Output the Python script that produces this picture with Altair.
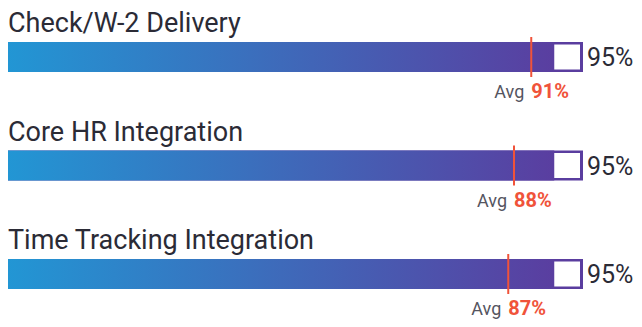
import altair as alt
import pandas as pd

categories = ["Check/W-2 Delivery", "Core HR Integration", "Time Tracking Integration"]
values = [95, 95, 95]
averages = [91, 88, 87]

df = pd.DataFrame({
    "label": categories,
    "row": list(range(len(categories))),
    "value": values,
    "avg": averages,
})
df["start"] = 0
df["full"] = 100
df["value_text"] = df["value"].astype(str) + "%"
df["avg_text"] = df["avg"].astype(str) + "%"
df["avg_word"] = "Avg"

PURPLE = "#5a3d9f"
RED = "#f0533a"
DARK = "#2b2b36"
FONT = "Roboto"

H = 311
first = 49.0
step = 108.5
ydom = [-first / step, (H - first) / step]

xs = alt.Scale(domain=[0, 100], nice=False, zero=False, padding=0)
ys = alt.Scale(domain=ydom, reverse=True, nice=False, zero=False, padding=0)

X = lambda f: alt.X(f, type="quantitative", scale=xs, axis=None)
Y = alt.Y("row:Q", scale=ys, axis=None)

base = alt.Chart(df)

track = base.mark_bar(size=30, color=PURPLE, orient="horizontal").encode(
    x=X("start"), x2="full", y=Y)

grad = alt.Gradient(
    gradient="linear",
    stops=[alt.GradientStop(color="#2296d4", offset=0),
           alt.GradientStop(color="#5a3ea0", offset=1)],
    x1=0, x2=1, y1=0, y2=0)

fill = base.mark_bar(size=30, color=grad, orient="horizontal").encode(
    x=X("start"), x2="value", y=Y)

white = base.mark_bar(size=25, color="white", x2Offset=-3, orient="horizontal").encode(
    x=X("value"), x2="full", y=Y)

rule = base.mark_rule(color=RED, strokeWidth=2, yOffset=-20, y2Offset=20).encode(
    x=X("avg"), y=Y, y2="row:Q")

title = base.mark_text(align="left", baseline="alphabetic", dy=-25, fontSize=27,
                       font=FONT, color=DARK).encode(
    x=X("start"), y=Y, text="label:N")

vtext = base.mark_text(align="left", baseline="alphabetic", dx=4, dy=9, fontSize=25,
                       font=FONT, color=DARK).encode(
    x=X("full"), y=Y, text="value_text:N")

avgword = base.mark_text(align="right", baseline="alphabetic", dx=-7, dy=41, fontSize=18,
                         font=FONT, color="#55555f").encode(
    x=X("avg"), y=Y, text="avg_word:N")

avgnum = base.mark_text(align="left", baseline="alphabetic", dx=0, dy=41, fontSize=20,
                        font=FONT, fontWeight="bold", color=RED).encode(
    x=X("avg"), y=Y, text="avg_text:N")

chart = alt.layer(track, fill, white, rule, title, vtext, avgword, avgnum).properties(
    width=575, height=H,
    autosize=alt.AutoSizeParams(type="none"),
    padding={"left": 0, "top": 0, "right": 51, "bottom": 0},
).configure_view(stroke=None)

chart.save("out.html", embed_options={"renderer": "svg", "actions": False})
